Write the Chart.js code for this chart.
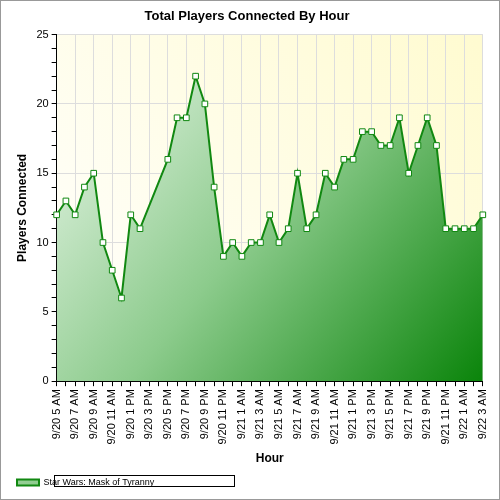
<!DOCTYPE html>
<html>
<head>
<meta charset="utf-8">
<script src="https://cdn.jsdelivr.net/npm/chart.js@4"></script>
<style>
  body { margin: 0; background: #fff; }
  .frame { width: 498px; height: 498px; border: 1px solid #999; position: relative; }
  canvas { display: block; }
</style>
</head>
<body>
<div class="frame"><canvas id="chart" width="498" height="498"></canvas></div>
<script>
// hourly samples starting 9/20 5 AM; null = no data
const hourLabels = [
  "9/20 5 AM","9/20 6 AM","9/20 7 AM","9/20 8 AM","9/20 9 AM","9/20 10 AM","9/20 11 AM","9/20 12 PM",
  "9/20 1 PM","9/20 2 PM","9/20 3 PM","9/20 4 PM","9/20 5 PM","9/20 6 PM","9/20 7 PM","9/20 8 PM",
  "9/20 9 PM","9/20 10 PM","9/20 11 PM","9/21 12 AM","9/21 1 AM","9/21 2 AM","9/21 3 AM","9/21 4 AM",
  "9/21 5 AM","9/21 6 AM","9/21 7 AM","9/21 8 AM","9/21 9 AM","9/21 10 AM","9/21 11 AM","9/21 12 PM",
  "9/21 1 PM","9/21 2 PM","9/21 3 PM","9/21 4 PM","9/21 5 PM","9/21 6 PM","9/21 7 PM","9/21 8 PM",
  "9/21 9 PM","9/21 10 PM","9/21 11 PM","9/22 12 AM","9/22 1 AM","9/22 2 AM","9/22 3 AM"
];
const players = [
  12, 13, 12, 14, 15, 10, 8, 6, 12, 11, null, null, 16, 19, 19, 22,
  20, 14, 9, 10, 9, 10, 10, 12, 10, 11, 15, 11, 12, 15, 14, 16,
  16, 18, 18, 17, 17, 19, 15, 17, 19, 17, 11, 11, 11, 11, 12
];
const seriesName = "Star Wars: Mask of Tyranny";

const plotBg = {
  id: "plotBg",
  beforeDraw(chart) {
    const { ctx, chartArea: a } = chart;
    const g = ctx.createLinearGradient(a.left, a.bottom, a.right, a.top);
    g.addColorStop(0, "#ffffff");
    g.addColorStop(1, "#fffbd0");
    ctx.save();
    ctx.fillStyle = g;
    ctx.fillRect(a.left, a.top, a.right - a.left, a.bottom - a.top);
    ctx.restore();
  },
  afterDraw(chart) {
    const l = chart.legend;
    const ctx = chart.ctx;
    ctx.save();
    ctx.strokeStyle = "#000";
    ctx.lineWidth = 1;
    ctx.strokeRect(l.left + 43.5, l.top + 3.5, 180, 11);
    ctx.restore();
  }
};

new Chart(document.getElementById("chart"), {
  type: "line",
  data: {
    labels: hourLabels,
    datasets: [{
      label: seriesName,
      data: players,
      spanGaps: true,
      fill: "origin",
      borderColor: "#118811",
      borderWidth: 2,
      tension: 0,
      pointStyle: "rect",
      pointRadius: 4,
      pointBackgroundColor: "#ffffff",
      pointBorderColor: "#118811",
      pointBorderWidth: 1,
      backgroundColor(ctx) {
        const a = ctx.chart.chartArea;
        if (!a) return "rgba(0,128,0,0.5)";
        const g = ctx.chart.ctx.createLinearGradient(a.left, a.top, a.right, a.bottom);
        g.addColorStop(0, "#f2faf2");
        g.addColorStop(0.5, "#8ccb8c");
        g.addColorStop(1, "#0a840a");
        return g;
      }
    }]
  },
  options: {
    responsive: false,
    animation: false,
    layout: { padding: { left: 10, right: 16, top: 4, bottom: 2 } },
    plugins: {
      title: {
        display: true, text: "Total Players Connected By Hour",
        color: "#000", font: { family: "Arial, Liberation Sans", size: 13, weight: "bold" },
        padding: { top: 4, bottom: 10 }
      },
      legend: {
        position: "bottom", align: "start",
        labels: {
          color: "#000", font: { family: "Arial, Liberation Sans", size: 9 },
          boxWidth: 22, boxHeight: 6, padding: 6
        }
      },
      tooltip: { enabled: false }
    },
    scales: {
      x: {
        offset: false,
        title: { display: true, text: "Hour", color: "#000",
          font: { family: "Arial, Liberation Sans", size: 12, weight: "bold" }, padding: { top: 4, bottom: 6 } },
        ticks: {
          autoSkip: false, maxRotation: 90, minRotation: 90, color: "#000",
          font: { family: "Arial, Liberation Sans", size: 11 },
          callback(v, i) { return i % 2 === 0 ? hourLabels[i] : ""; }
        },
        grid: {
          color(c) { return c.index % 2 === 0 ? "#dddddd" : "rgba(0,0,0,0)"; },
          tickColor: "#000", tickLength: 5
        },
        border: { color: "#000", width: 1 }
      },
      y: {
        min: 0, max: 25,
        title: { display: true, text: "Players Connected", color: "#000",
          font: { family: "Arial, Liberation Sans", size: 12, weight: "bold" } },
        ticks: {
          stepSize: 1, autoSkip: false, color: "#000",
          font: { family: "Arial, Liberation Sans", size: 11 },
          callback(v) { return v % 5 === 0 ? v : ""; }
        },
        grid: {
          color(c) { return c.tick && c.tick.value % 5 === 0 ? "#dddddd" : "rgba(0,0,0,0)"; },
          tickColor: "#000", tickLength: 5
        },
        border: { color: "#000", width: 1 }
      }
    }
  },
  plugins: [plotBg]
});
</script>
</body>
</html>
